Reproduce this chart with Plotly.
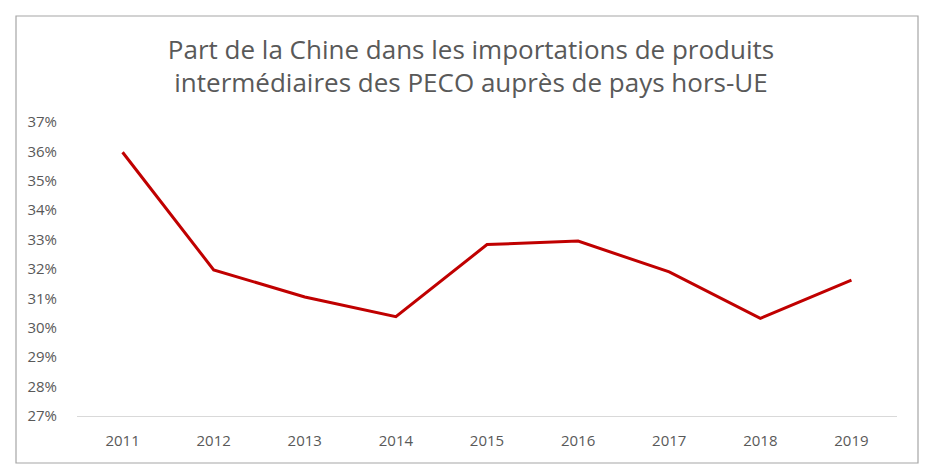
import plotly.graph_objects as go

years = ["2011", "2012", "2013", "2014", "2015", "2016", "2017", "2018", "2019"]
share = [35.97, 31.97, 31.05, 30.38, 32.83, 32.95, 31.9, 30.32, 31.62]
share_frac = [v / 100 for v in share]
tick_vals = [0.27 + 0.01 * i for i in range(11)]
tick_text = [f"{27 + i}%" for i in range(11)]

# the page body adds an 8px offset; the figure is sized so it ends at the window edge
OFF = 8
W, H = 934 - OFF, 476 - OFF
L, R, T, B = 77 - OFF, 37, 122 - OFF, 60
pw, ph = W - L - R, H - T - B

fig = go.Figure()
fig.add_trace(go.Scatter(
    x=years, y=share_frac, mode="lines",
    line=dict(color="#C00000", width=3),
    hoverinfo="x+y",
))

fig.update_layout(
    width=W, height=H,
    margin=dict(l=L, r=R, t=T, b=B, pad=0),
    paper_bgcolor="white", plot_bgcolor="white",
    showlegend=False,
    font=dict(family="Open Sans", color="#595959", size=15),
    title=dict(
        text="Part de la Chine dans les importations de produits<br>intermédiaires des PECO auprès de pays hors-UE",
        x=0.5, xanchor="center", xref="container",
        y=1 - 50.5 / H, yanchor="middle", yref="container",
        font=dict(family="Open Sans", size=26, color="#595959"),
    ),
    xaxis=dict(
        type="category", range=[-0.5, 8.5],
        showgrid=False, zeroline=False,
        showline=True, linecolor="#D9D9D9", linewidth=1,
        ticks="", ticklabelstandoff=11,
        tickfont=dict(size=15, color="#595959"),
    ),
    yaxis=dict(
        range=[0.27, 0.37],
        tickvals=tick_vals, ticktext=tick_text,
        showgrid=False, zeroline=False, showline=False,
        ticks="", ticklabelstandoff=19,
        tickfont=dict(size=15, color="#595959"),
    ),
    shapes=[dict(
        type="rect", xref="paper", yref="paper",
        x0=(16 - OFF - L) / pw, x1=(918 - OFF - L) / pw,
        y0=(H - B - (463 - OFF)) / ph, y1=(H - B - (16 - OFF)) / ph,
        line=dict(color="#A6A6A6", width=1.2),
        fillcolor="rgba(0,0,0,0)", layer="below",
    )],
)

fig.write_html("out.html")
